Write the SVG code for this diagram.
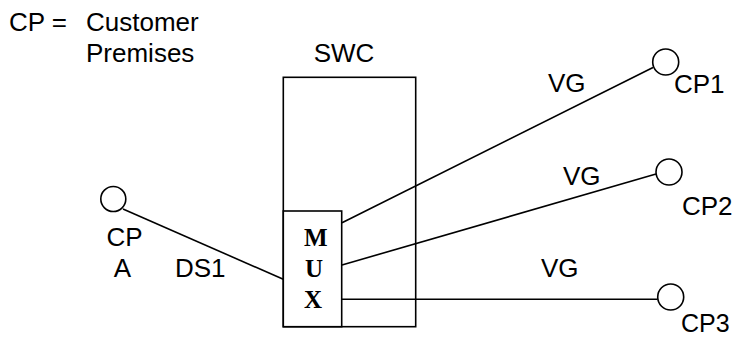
<svg xmlns="http://www.w3.org/2000/svg" width="734" height="339" viewBox="0 0 734 339">
<style>
.s{fill:none;stroke:#000;stroke-width:1.6}
.c{fill:#fff;stroke:#000;stroke-width:1.6}
.t{font-family:"Liberation Sans",Arial,sans-serif;font-size:26px;fill:#000}
.m{font-family:"Liberation Serif","Times New Roman",serif;font-size:25px;font-weight:bold;fill:#000}
</style>
<rect width="734" height="339" fill="#fff"/>
<g id="legend">
<text class="t" x="9" y="31">CP =</text>
<text class="t" x="86" y="31">Customer</text>
<text class="t" x="86" y="62">Premises</text>
</g>
<g id="connectors">
<line class="s" x1="123" y1="209" x2="283.3" y2="279.3"/>
<line class="s" x1="342" y1="222.7" x2="653" y2="67.5"/>
<line class="s" x1="342" y1="265" x2="656" y2="174"/>
<line class="s" x1="342" y1="299.3" x2="657.5" y2="299.3"/>
</g>
<g id="swc">
<rect class="s" x="283.3" y="77.3" width="132.4" height="249.4"/>
<text class="t" x="344" y="62" text-anchor="middle">SWC</text>
</g>
<g id="mux">
<rect class="c" x="283.3" y="211" width="58.4" height="115.7"/>
<text class="m" x="304" y="246">M</text>
<text class="m" x="305" y="277">U</text>
<text class="m" x="304" y="308">X</text>
</g>
<g id="cpa">
<circle class="c" cx="113.3" cy="199" r="12.5"/>
<text class="t" x="124.5" y="246" text-anchor="middle">CP</text>
<text class="t" x="122.5" y="277" text-anchor="middle">A</text>
</g>
<g id="ds1-label"><text class="t" x="175" y="277">DS1</text></g>
<g id="cp1">
<circle class="c" cx="665.7" cy="62" r="13"/>
<text class="t" x="674" y="93">CP1</text>
</g>
<g id="cp2">
<circle class="c" cx="669" cy="172" r="13"/>
<text class="t" x="682" y="215">CP2</text>
</g>
<g id="cp3">
<circle class="c" cx="670.7" cy="297" r="13"/>
<text class="t" x="681" y="332" style="font-size:25px">CP3</text>
</g>
<g id="vg-labels">
<text class="t" x="548" y="92">VG</text>
<text class="t" x="563" y="185">VG</text>
<text class="t" x="541" y="277">VG</text>
</g>
</svg>
